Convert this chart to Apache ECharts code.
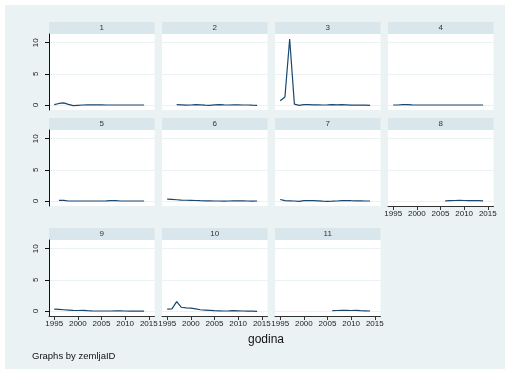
<!DOCTYPE html>
<html>
<head>
<meta charset="utf-8">
<script src="https://cdn.jsdelivr.net/npm/echarts@6/dist/echarts.min.js"></script>
<style>html,body{margin:0;padding:0;background:#fff}#c{width:505px;height:374px}</style>
</head>
<body>
<div id="c"></div>
<script>
const years = [1995,1996,1997,1998,1999,2000,2001,2002,2003,2004,2005,2006,2007,2008,2009,2010,2011,2012,2013,2014];
const panelNames = ["1","2","3","4","5","6","7","8","9","10","11"];
const v1 = [0.05,0.25,0.35,0.1,-0.1,-0.05,0.0,0.02,0.03,0.02,0.01,0.0,0.0,0.0,0.0,0.0,0.0,0.0,0.0,0.0];
const v2 = [null,null,0.05,0.02,-0.02,0.0,0.05,0.02,-0.03,-0.05,0.03,0.05,0.02,0.0,0.03,0.02,0.0,0.0,-0.03,-0.05];
const v3 = [0.7,1.3,10.6,0.15,-0.05,0.05,0.05,0.03,0.02,0.0,0.02,0.05,0.02,0.05,0.02,-0.02,-0.03,-0.02,-0.03,-0.05];
const v4 = [0.0,0.0,0.05,0.05,0.02,0.0,0.0,0.0,0.0,0.0,0.0,0.0,0.0,0.0,0.0,0.0,0.0,0.0,0.0,0.0];
const v5 = [null,0.1,0.1,0.0,0.0,0.0,0.0,0.0,0.0,0.0,0.0,0.02,0.05,0.05,0.0,0.0,0.0,0.0,0.0,0.0];
const v6 = [0.3,0.25,0.2,0.15,0.12,0.1,0.08,0.05,0.03,0.02,0.0,0.0,-0.02,0.0,0.02,0.03,0.02,0.0,-0.02,0.0];
const v7 = [0.25,0.05,0.03,0.0,-0.05,0.05,0.08,0.05,0.02,-0.02,-0.05,-0.03,0.0,0.05,0.08,0.05,0.03,0.02,0.0,0.0];
const v8 = [null,null,null,null,null,null,null,null,null,null,null,0.02,0.05,0.08,0.12,0.08,0.05,0.08,0.05,0.02];
const v9 = [0.3,0.25,0.2,0.15,0.1,0.08,0.1,0.05,0.02,0.0,0.0,0.0,0.0,0.02,0.03,0.0,-0.02,-0.02,-0.03,-0.03];
const v10 = [0.3,0.35,1.5,0.6,0.5,0.45,0.35,0.2,0.15,0.1,0.05,0.03,0.0,0.02,0.05,0.03,0.0,-0.02,-0.03,-0.05];
const v11 = [null,null,null,null,null,null,null,null,null,null,null,0.05,0.08,0.1,0.12,0.08,0.1,0.05,0.03,0.0];
const xTicks = [1995,2000,2005,2010,2015];
const yTicks = [0,5,10];
const xTitle = "godina";
const note = "Graphs by zemljaID";

const seriesValues = [v1,v2,v3,v4,v5,v6,v7,v8,v9,v10,v11];
const colLeft = [49,162,275,388];
const rowTop = [34,130,240];
const pw = 105.5, ph = 76, stripH = 12;
const font = "'Liberation Sans', Arial, sans-serif";
const bg = '#EAF2F3', strip = '#D9E6EB', lineColor = '#1A476F';

const grids = [], xAxes = [], yAxes = [], series = [], graphics = [];
graphics.push({type:'rect', shape:{x:5,y:5,width:500,height:364}, style:{fill:bg}, z:-10});
seriesValues.forEach((vals, i) => {
  const r = Math.floor(i/4), c = i%4;
  const left = colLeft[c], top = rowTop[r];
  grids.push({left:left, top:top, width:pw, height:ph, show:true, backgroundColor:'#fff', borderWidth:0});
  const showX = (i >= 7);
  const showY = (c === 0);
  xAxes.push({
    type:'value', gridIndex:i, min:1993.9, max:2016.2,
    axisLine:{show:showX, onZero:false, lineStyle:{color:'#333', width:1}},
    axisTick:{show:showX, length:4, customValues:xTicks, lineStyle:{color:'#333'}},
    axisLabel:{show:showX, customValues:xTicks, formatter:(v)=>String(v), margin:4, fontSize:8, color:'#222', fontFamily:font},
    splitLine:{show:false}
  });
  yAxes.push({
    type:'value', gridIndex:i, min:-0.8, max:11.4,
    axisLine:{show:showY, lineStyle:{color:'#111', width:1}},
    axisTick:{show:showY, length:4, customValues:yTicks, lineStyle:{color:'#111'}},
    axisLabel:{show:showY, customValues:yTicks, rotate:90, margin:9, fontSize:8, color:'#222', fontFamily:font},
    splitLine:{show:true, lineStyle:{color:bg, width:1}}
  });
  series.push({
    type:'line', xAxisIndex:i, yAxisIndex:i, showSymbol:false, symbol:'none',
    data: years.map((y,k) => [y, vals[k]]),
    connectNulls:false,
    lineStyle:{color:lineColor, width:1.2}, z:5
  });
  graphics.push({type:'rect', shape:{x:left, y:top-stripH, width:pw, height:stripH}, style:{fill:strip}, z:-5});
  graphics.push({type:'text', x:left+pw/2, y:top-stripH/2, style:{text:panelNames[i], fill:'#333', font:'8px ' + font, textAlign:'center', textVerticalAlign:'middle'}, z:1});
});
graphics.push({type:'text', x:266, y:340, style:{text:xTitle, fill:'#111', font:'12px ' + font, textAlign:'center', textVerticalAlign:'middle'}});
graphics.push({type:'text', x:32, y:356, style:{text:note, fill:'#111', font:'9.5px ' + font, textAlign:'left', textVerticalAlign:'middle'}});

const chart = echarts.init(document.getElementById('c'), null, {renderer:'canvas'});
chart.setOption({
  animation:false,
  backgroundColor:'#fff',
  grid:grids, xAxis:xAxes, yAxis:yAxes, series:series,
  graphic:{elements:graphics}
});
</script>
</body>
</html>
